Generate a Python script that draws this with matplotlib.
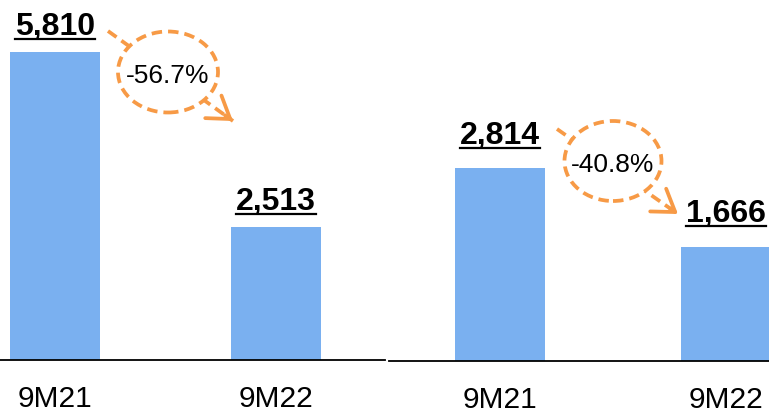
import matplotlib
matplotlib.use("Agg")
import matplotlib.pyplot as plt
from matplotlib.patches import Ellipse, FancyArrowPatch
from matplotlib.lines import Line2D
from matplotlib.transforms import IdentityTransform

plt.rcParams['font.family'] = ['Liberation Sans', 'DejaVu Sans']

# Data
categories = ["9M21", "9M22"]
left_values = [5810, 2513]
right_values = [2814, 1666]
left_labels = ["5,810", "2,513"]
right_labels = ["2,814", "1,666"]
left_change = "-56.7%"
right_change = "-40.8%"

BAR = "#7AB0F0"
ORANGE = "#F79A46"
W, H = 769, 414

fig = plt.figure(figsize=(W / 100, H / 100), dpi=100)

def fx(px):
    return px / W

def fy(py_top):
    return (H - py_top) / H

axL = fig.add_axes([0, fy(361), fx(385), 361 / H])
axR = fig.add_axes([fx(389), fy(362), fx(380), 362 / H])

panels = [
    (axL, left_values, left_labels, (-0.249, 1.493), 6800, 0.407, 13.0),
    (axR, right_values, right_labels, (-0.491, 1.19), 5285, 0.40, 18.5),
]

label_texts = []
for ax, vals, labs, xl, ytop, bw, off in panels:
    ax.bar(range(len(vals)), vals, width=bw, color=BAR, zorder=2)
    ax.set_xlim(*xl)
    ax.set_ylim(0, ytop)
    for s in ["top", "left", "right"]:
        ax.spines[s].set_visible(False)
    ax.spines["bottom"].set_linewidth(1.3)
    ax.spines["bottom"].set_color("black")
    ax.set_yticks([])
    ax.set_xticks(range(len(categories)))
    ax.set_xticklabels(categories, fontsize=21.5)
    ax.tick_params(axis="x", length=0, pad=17)
    ax.patch.set_alpha(0)
    for i, (v, t) in enumerate(zip(vals, labs)):
        txt = ax.annotate(t, xy=(i, v), xytext=(0, off), textcoords="offset points",
                          ha="center", va="baseline", fontsize=23, fontweight="bold",
                          annotation_clip=False)
        label_texts.append((ax, i, v, off, txt))

# Underlines
fig.canvas.draw()
r = fig.canvas.get_renderer()
for ax, i, v, off, txt in label_texts:
    bb = txt.get_window_extent(r)
    base = ax.transData.transform((i, v))[1] + off * fig.dpi / 72
    y = base - 5
    fig.add_artist(Line2D([bb.x0, bb.x1], [y, y], transform=IdentityTransform(),
                          color="black", lw=1.6))

LW = 2.7
DASH = (0, (2.8, 1.6))

def change_marker(cx, cy, w, h, start, end, text, base_y):
    # dashed connector
    fig.add_artist(Line2D([fx(start[0]), fx(end[0])], [fy(start[1]), fy(end[1])],
                          transform=fig.transFigure, color=ORANGE, lw=LW,
                          linestyle=DASH, zorder=3))
    # solid arrowhead
    dx, dy = end[0] - start[0], end[1] - start[1]
    L = (dx ** 2 + dy ** 2) ** 0.5
    bx, by = end[0] - dx / L * 10, end[1] - dy / L * 10
    fig.add_artist(FancyArrowPatch(
        (fx(bx), fy(by)), (fx(end[0]), fy(end[1])), transform=fig.transFigure,
        arrowstyle="->,head_length=0.75,head_width=0.5", mutation_scale=20,
        color=ORANGE, lw=LW, shrinkA=0, shrinkB=0, zorder=3))
    e = Ellipse((fx(cx), fy(cy)), w / W, h / H, transform=fig.transFigure,
                facecolor="white", edgecolor=ORANGE, lw=LW,
                linestyle=DASH, zorder=4)
    fig.add_artist(e)
    fig.text(fx(cx), fy(base_y), text, ha="center", va="baseline", fontsize=19,
             color="black", zorder=5)

change_marker(168, 73, 100, 81, (108, 32), (233, 122), left_change, 83)
change_marker(613, 162, 97, 80, (557, 130), (678, 215), right_change, 172)

fig.savefig("out.png", dpi=100)
